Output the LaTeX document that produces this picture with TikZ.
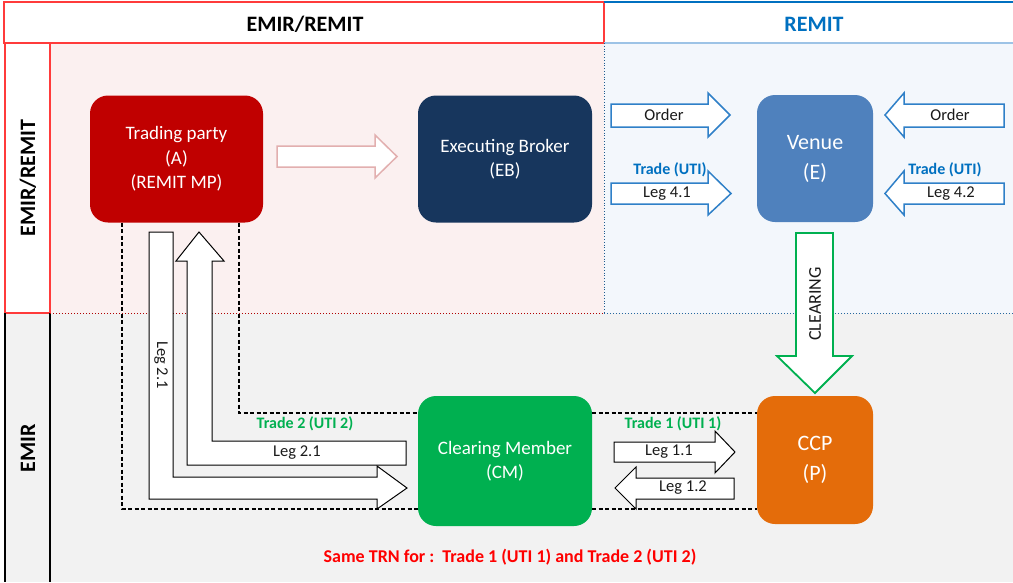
\documentclass[tikz,border=0pt]{standalone}
\usepackage{fontspec}
\setmainfont{Carlito}
\usetikzlibrary{calc}
\definecolor{tpred}{HTML}{C00000}
\definecolor{ebnavy}{HTML}{17365D}
\definecolor{venblue}{HTML}{4F81BD}
\definecolor{cmgreen}{HTML}{00B050}
\definecolor{ccporange}{HTML}{E46C0A}
\definecolor{pinkbg}{HTML}{FBF0F0}
\definecolor{bluebg}{HTML}{F3F7FC}
\definecolor{graybg}{HTML}{F2F2F2}
\definecolor{hdrred}{HTML}{FF3B3B}
\definecolor{remitblue}{HTML}{0070C0}
\definecolor{arrblue}{HTML}{2F80C8}
\definecolor{lightblue}{HTML}{9DC3E6}
\definecolor{pinkline}{HTML}{E2AFAF}
\definecolor{txtred}{HTML}{FF0000}
\definecolor{labgray}{HTML}{1A1A1A}
\begin{document}
\begin{tikzpicture}[x=1pt,y=-1pt,
  box/.style={rounded corners=18pt, inner sep=0pt, outer sep=0pt, text=white, align=center, font=\fontsize{19}{24.5}\selectfont},
  bigbox/.style={box, font=\fontsize{22}{30}\selectfont},
  dashline/.style={line width=1.1pt, dash pattern=on 4pt off 2.5pt},
  blockblue/.style={draw=arrblue, fill=white, line width=1.5pt, line join=miter},
  blockblk/.style={draw=black, fill=white, line width=1pt, line join=miter},
  lab/.style={font=\fontsize{16.5}{18}\selectfont, inner sep=0pt, text=labgray},
  blab/.style={font=\bfseries\fontsize{16}{18}\selectfont, inner sep=0pt},
  hdr/.style={font=\bfseries\fontsize{22}{24}\selectfont, inner sep=0pt}
]
\useasboundingbox (0,0) rectangle (1013,582);
\fill[white] (0,0) rectangle (1013,582);
% backgrounds
\fill[pinkbg] (50,43) rectangle (604,313);
\fill[bluebg] (604,43) rectangle (1013,313);
\fill[graybg] (50,313) rectangle (1013,582);
\fill[graybg] (5,313) rectangle (50,582);
% headers
\draw[hdrred, line width=1.2pt] (4,2) rectangle (604,43);
\draw[remitblue, line width=2pt] (604,2) -- (1013,2);
\draw[lightblue, line width=1.5pt] (604,43) -- (1013,43);
\node[hdr] (h1) at (305,24) {EMIR/REMIT};
\node[hdr, text=remitblue] (h2) at (814,24) {REMIT};
% left column
\draw[hdrred, line width=1.2pt] (5,43) rectangle (50,313);
\draw[black, line width=1.2pt] (5,313) -- (5,582) (50,313) -- (50,582);
\node[hdr, rotate=90] (v1) at (28,178) {EMIR/REMIT};
\node[hdr, rotate=90] (v2) at (28,448) {EMIR};
% separators
\draw[red!70!black, dotted, line width=1pt] (50,313) -- (604,313);
\draw[arrblue!80!black, dotted, line width=1pt] (604,313) -- (1013,313);
\draw[arrblue!70!black, dotted, line width=0.8pt] (604,43) -- (604,313);
% nodes
\node[box, fill=tpred, minimum width=173pt, minimum height=127pt] (tp) at (176.5,159) {Trading party\\(A)\\(REMIT MP)};
\node[box, fill=ebnavy, minimum width=174pt, minimum height=127pt] (eb) at (505,159) {Executing Broker\\(EB)};
\node[bigbox, fill=venblue, minimum width=116pt, minimum height=127pt] (ven) at (815,158.5) {Venue\\(E)};
\node[box, fill=cmgreen, minimum width=174pt, minimum height=130pt] (cm) at (505,461) {Clearing Member\\(CM)};
\node[bigbox, fill=ccporange, minimum width=116pt, minimum height=128pt] (ccp) at (815,460) {CCP\\(P)};
% dashed connectors
\draw[dashline] ([xshift=32pt]tp.south west) |- ([yshift=17pt]cm.south west);
\draw[dashline] ([xshift=-24pt]tp.south east) |- ([yshift=-17pt]cm.north west);
\draw[dashline] ([yshift=-17pt]cm.north east) -- ([yshift=-17pt]cm.north east -| ccp.west);
\draw[dashline] ([yshift=17pt]cm.south east) -- ([yshift=17pt]cm.south east -| ccp.west);
% TP -> EB block arrow
\draw[draw=pinkline, fill=white, line width=1.5pt, line join=miter] (277,146) -- (375,146) -- (375,135) -- (397,156.5) -- (375,178) -- (375,167) -- (277,167) -- cycle;
% venue arrows
\draw[blockblue] (611,104) -- (708,104) -- (708,93) -- (730,115) -- (708,137) -- (708,127) -- (611,127) -- cycle;
\node[lab] (o1) at (664,115) {Order};
\draw[blockblue] (611,183) -- (708,183) -- (708,171) -- (731,193.5) -- (708,215) -- (708,204) -- (611,204) -- cycle;
\node[lab] (l41) at (667,193.5) {Leg 4.1};
\node[blab, text=remitblue] (t41) at (670,170) {Trade (UTI)};
\draw[blockblue] (1004,104) -- (904,104) -- (904,93) -- (885,115) -- (904,137) -- (904,127) -- (1004,127) -- cycle;
\node[lab] (o2) at (950,115) {Order};
\draw[blockblue] (1004,183) -- (904,183) -- (904,171) -- (885,193.5) -- (904,215) -- (904,204) -- (1004,204) -- cycle;
\node[lab] (l42) at (951,193.5) {Leg 4.2};
\node[blab, text=remitblue] (t42) at (945,170) {Trade (UTI)};
% clearing arrow
\draw[draw=cmgreen, fill=white, line width=1.8pt, line join=miter] (796,233) -- (833,233) -- (833,356) -- (852,356) -- (815,393) -- (777,356) -- (796,356) -- cycle;
\node[lab, rotate=90, font=\fontsize{18}{20}\selectfont] (clr) at (815,304) {CLEARING};
% L arrows
\draw[blockblk] (406,441) -- (212,441) -- (212,261) -- (224,261) -- (199,232) -- (176,261) -- (187,261) -- (187,465) -- (406,465) -- cycle;
\node[lab] (l21h) at (297,453) {Leg 2.1};
\draw[blockblk] (149,232) -- (173,232) -- (173,477) -- (377,477) -- (377,466) -- (407,488) -- (377,509) -- (377,499) -- (149,499) -- cycle;
\node[lab, rotate=-90] (l21v) at (161,365) {Leg 2.1};
\node[blab, text=cmgreen] (t2) at (305,424) {Trade 2 (UTI 2)};
% CM <-> CCP arrows
\draw[blockblk] (614,442) -- (715,442) -- (715,431) -- (735,452) -- (715,473) -- (715,462) -- (614,462) -- cycle;
\node[lab] (l11) at (669,452) {Leg 1.1};
\draw[blockblk] (734,478) -- (636,478) -- (636,467) -- (615,488) -- (636,509) -- (636,499) -- (734,499) -- cycle;
\node[lab] (l12) at (683,488) {Leg 1.2};
\node[blab, text=cmgreen] (t1) at (673,424) {Trade 1 (UTI 1)};
% bottom note
\node[blab, text=txtred, font=\bfseries\fontsize{18}{20}\selectfont] (note) at (510,557) {Same TRN for :\ \ Trade 1 (UTI 1) and Trade 2 (UTI 2)};
\end{tikzpicture}
\end{document}
